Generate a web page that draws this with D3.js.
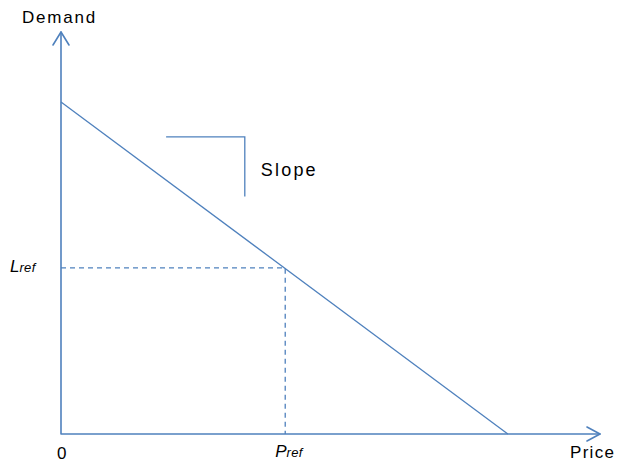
<!DOCTYPE html>
<html>
<head>
<meta charset="utf-8">
<script src="https://cdn.jsdelivr.net/npm/d3@7"></script>
<style>
  html, body { margin: 0; padding: 0; background: #fff; }
  svg { display: block; }
  text { font-family: "Liberation Sans", Arial, sans-serif; fill: #000; }
</style>
</head>
<body>
<svg id="chart" width="617" height="463"></svg>
<script>
// schematic demand curve, values in axis units (0..10 on each axis)
const demandLine = [[0, 8.26], [8.29, 0]];   // [price, demand]
const refPoint = [4.16, 4.13];                // [Pref, Lref]
const slopeMark = [[1.95, 7.39], [3.41, 7.39], [3.41, 5.91]];
const axisLabels = { x: "Price", y: "Demand", origin: "0" };

const BLUE = "#4f81bd";
const svg = d3.select("#chart");

const x = d3.scaleLinear().domain([0, 10]).range([61, 600]);
const y = d3.scaleLinear().domain([0, 10]).range([434, 32]);
const line = d3.line().x((d) => x(d[0])).y((d) => y(d[1]));

// axes with open arrowheads
const axes = svg.append("g").attr("fill", "none").attr("stroke", BLUE)
  .attr("stroke-width", 1.6).attr("stroke-linecap", "round").attr("stroke-linejoin", "round");
axes.append("path").attr("d", line([[0, 10], [0, 0], [10, 0]]));
axes.append("path").attr("d",
  `M${x(0) - 8},${y(10) + 13} L${x(0)},${y(10)} L${x(0) + 8},${y(10) + 13}`);
axes.append("path").attr("d",
  `M${x(10) - 13},${y(0) - 7} L${x(10)},${y(0)} L${x(10) - 13},${y(0) + 7}`);

// demand line
svg.append("path").attr("d", line(demandLine))
  .attr("fill", "none").attr("stroke", BLUE).attr("stroke-width", 1.3);

// reference dashes
const [pr, lr] = refPoint;
svg.append("path").attr("d", line([[0, lr], [pr, lr], [pr, 0]]))
  .attr("fill", "none").attr("stroke", BLUE).attr("stroke-width", 1.3)
  .attr("stroke-dasharray", "5,4");

// slope marker
svg.append("path").attr("d", line(slopeMark))
  .attr("fill", "none").attr("stroke", BLUE).attr("stroke-width", 1.3);

// labels
svg.append("text").attr("x", 22).attr("y", 23)
  .attr("font-size", 17).attr("letter-spacing", 1.8).text(axisLabels.y);
svg.append("text").attr("x", 570).attr("y", 458)
  .attr("font-size", 17).attr("letter-spacing", 1.3).text(axisLabels.x);
svg.append("text").attr("x", x(0) - 4).attr("y", 459)
  .attr("font-size", 17).text(axisLabels.origin);
svg.append("text").attr("x", x(slopeMark[2][0]) + 16).attr("y", 176)
  .attr("font-size", 18).attr("letter-spacing", 2.2).text("Slope");

function refLabel(px, py, main) {
  const t = svg.append("text").attr("x", px).attr("y", py).attr("font-style", "italic");
  t.append("tspan").attr("font-size", 17).text(main);
  t.append("tspan").attr("font-size", 13).attr("letter-spacing", 0.3).text("ref");
}
refLabel(10, y(lr) + 4, "L");
refLabel(x(pr) - 10, 457, "P");
</script>
</body>
</html>
